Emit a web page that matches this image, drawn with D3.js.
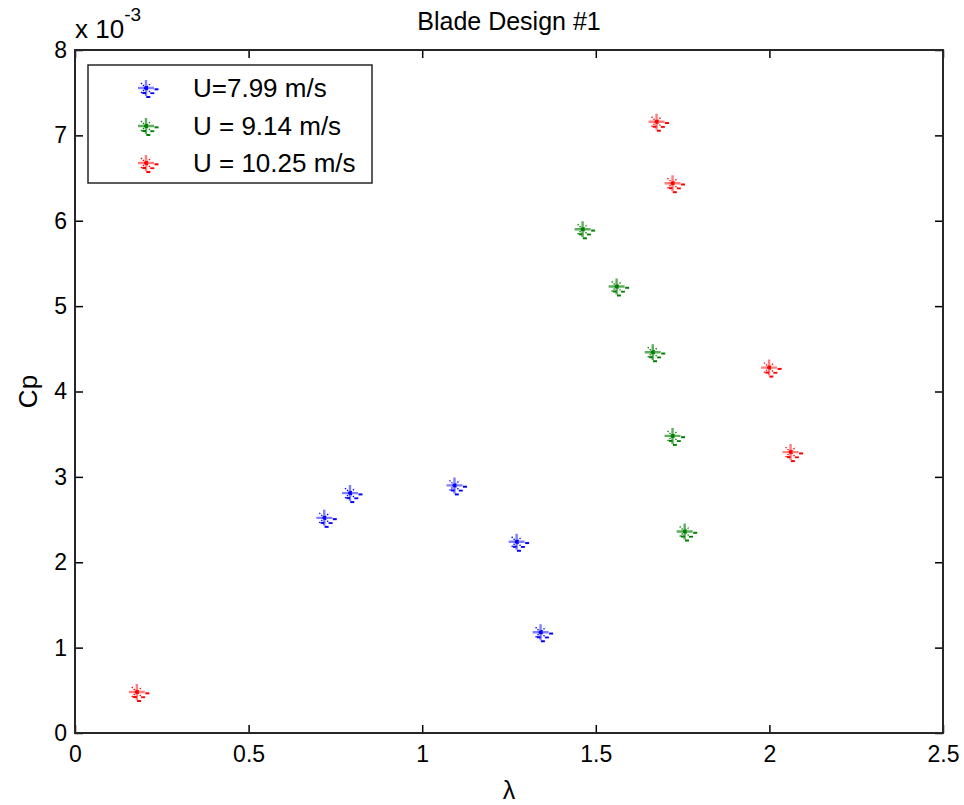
<!DOCTYPE html>
<html>
<head>
<meta charset="utf-8">
<script src="https://cdn.jsdelivr.net/npm/d3@7"></script>
<style>
  body { margin: 0; background: #fff; }
  text { font-family: Arial, "Liberation Sans", Helvetica, sans-serif; fill: #000; }
</style>
</head>
<body>
<script>
const width = 964;
const height = 805;

// series values, Cp in units of 1e-3
const blueLambda = [0.718, 0.792, 1.093, 1.272, 1.341];
const blueCp = [2.52, 2.81, 2.90, 2.24, 1.18];
const greenLambda = [1.462, 1.560, 1.664, 1.721, 1.756];
const greenCp = [5.90, 5.23, 4.46, 3.48, 2.36];
const redLambda = [0.178, 1.675, 1.721, 1.999, 2.061];
const redCp = [0.48, 7.16, 6.44, 4.28, 3.29];

const seriesNames = ['U=7.99 m/s', 'U = 9.14 m/s', 'U = 10.25 m/s'];
const seriesColors = ['#0000ff', '#008000', '#ff0000'];
const seriesLight = ['#7f7fff', '#5fae5f', '#ff7f7f'];

const xTicks = [0, 0.5, 1, 1.5, 2, 2.5];
const yTicks = [0, 1, 2, 3, 4, 5, 6, 7, 8];

const series = [
  { lambda: blueLambda, cp: blueCp },
  { lambda: greenLambda, cp: greenCp },
  { lambda: redLambda, cp: redCp }
].map((s, i) => ({
  name: seriesNames[i],
  color: seriesColors[i],
  light: seriesLight[i],
  points: s.lambda.map((l, j) => ({ x: l, y: s.cp[j] }))
}));

const margin = { left: 75, right: 21, top: 50, bottom: 72 };
const x = d3.scaleLinear().domain([0, 2.5]).range([margin.left, width - margin.right]);
const y = d3.scaleLinear().domain([0, 8]).range([height - margin.bottom, margin.top]);

const svg = d3.select('body').append('svg')
  .attr('width', width)
  .attr('height', height);

// axes with inward ticks
const tickLen = 8;
svg.append('g')
  .attr('transform', `translate(0,${y(0)})`)
  .call(d3.axisBottom(x).tickValues(xTicks).tickFormat(d3.format('')).tickSizeInner(-tickLen).tickSizeOuter(0).tickPadding(13))
  .call(g => g.selectAll('text').attr('font-size', 23))
  .call(g => g.select('.domain').remove());

svg.append('g')
  .attr('transform', `translate(0,${y(8)})`)
  .call(d3.axisTop(x).tickValues(xTicks).tickFormat('').tickSizeInner(-tickLen).tickSizeOuter(0))
  .call(g => g.select('.domain').remove());

svg.append('g')
  .attr('transform', `translate(${x(0)},0)`)
  .call(d3.axisLeft(y).tickValues(yTicks).tickFormat(d3.format('')).tickSizeInner(-tickLen).tickSizeOuter(0).tickPadding(8))
  .call(g => g.selectAll('text').attr('font-size', 23))
  .call(g => g.select('.domain').remove());

svg.append('g')
  .attr('transform', `translate(${x(2.5)},0)`)
  .call(d3.axisRight(y).tickValues(yTicks).tickFormat('').tickSizeInner(-tickLen).tickSizeOuter(0))
  .call(g => g.select('.domain').remove());

svg.selectAll('g').attr('font-family', null);
svg.selectAll('.tick line').attr('stroke', '#000').attr('stroke-width', 1.5);

svg.append('rect')
  .attr('x', x(0))
  .attr('y', y(8))
  .attr('width', x(2.5) - x(0))
  .attr('height', y(0) - y(8))
  .attr('fill', 'none')
  .attr('stroke', '#262626')
  .attr('stroke-width', 2);

// exponent label
const expo = svg.append('text')
  .attr('x', x(0))
  .attr('y', 38)
  .attr('font-size', 26);
expo.append('tspan').text('x 10');
expo.append('tspan').attr('dy', -17).attr('font-size', 19).text('-3');

svg.append('text')
  .attr('x', (x(0) + x(2.5)) / 2)
  .attr('y', 30)
  .attr('text-anchor', 'middle')
  .attr('font-size', 25)
  .text('Blade Design #1');

svg.append('text')
  .attr('x', (x(0) + x(2.5)) / 2)
  .attr('y', 799)
  .attr('text-anchor', 'middle')
  .attr('font-size', 25)
  .text('λ');

svg.append('text')
  .attr('transform', `translate(37,${(y(0) + y(8)) / 2}) rotate(-90)`)
  .attr('text-anchor', 'middle')
  .attr('font-size', 26)
  .text('Cp');

// asterisk marker plus the tiny error bar dashes
function marker(g, color, light) {
  g.append('path')
    .attr('d', 'M-8,0H8M0,-8V8')
    .attr('stroke', light)
    .attr('stroke-width', 2.4);
  g.append('path')
    .attr('d', 'M-5,-5L5,5M-5,5L5,-5')
    .attr('stroke', color)
    .attr('stroke-width', 1.3)
    .attr('stroke-dasharray', '1.4,1.4');
  g.append('circle').attr('r', 2).attr('fill', color);
  const dashes = [[8.5, 0.3, 4, 2], [-3.7, 4, 3.7, 2], [4.3, 4.3, 4, 1.8], [0.3, 8, 4, 2]];
  g.selectAll('rect.eb')
    .data(dashes)
    .join('rect')
      .attr('class', 'eb')
      .attr('x', d => d[0])
      .attr('y', d => d[1])
      .attr('width', d => d[2])
      .attr('height', d => d[3])
      .attr('fill', color);
}

series.forEach(s => {
  svg.append('g')
    .selectAll('g')
    .data(s.points)
    .join('g')
      .attr('transform', d => `translate(${x(d.x)},${y(d.y)})`)
      .each(function () { marker(d3.select(this), s.color, s.light); });
});

// legend
const legend = svg.append('g');
legend.append('rect')
  .attr('x', 88)
  .attr('y', 65)
  .attr('width', 284)
  .attr('height', 118)
  .attr('fill', '#fff')
  .attr('stroke', '#262626')
  .attr('stroke-width', 1.5);

const rowY = [88, 126, 163];
series.forEach((s, i) => {
  const g = legend.append('g').attr('transform', `translate(146,${rowY[i]})`);
  marker(g, s.color, s.light);
  legend.append('text')
    .attr('x', 193)
    .attr('y', rowY[i] + 9)
    .attr('font-size', 26)
    .text(s.name);
});
</script>
</body>
</html>
